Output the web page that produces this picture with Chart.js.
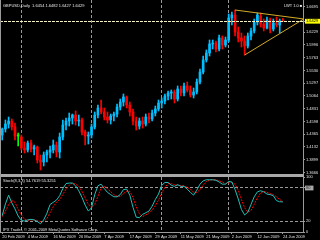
<!DOCTYPE html>
<html>
<head>
<meta charset="utf-8">
<script src="https://cdn.jsdelivr.net/npm/chart.js@4.4.1/dist/chart.umd.min.js"></script>
<style>
  html, body { margin: 0; padding: 0; background: #000; }
  #wrap { position: relative; width: 320px; height: 240px; overflow: hidden; background: #000; }
  canvas { position: absolute; left: 0; }
  #price { top: 0; }
  #stoch { top: 174px; }
  .txt { position: absolute; color: #e8e8e8; font-family: "Liberation Sans", Arial, sans-serif; font-size: 4px; line-height: 5px; white-space: nowrap; }
</style>
</head>
<body>
<div id="wrap">
  <canvas id="price" width="320" height="174"></canvas>
  <canvas id="stoch" width="320" height="66"></canvas>
  <div class="txt" style="left:3px;top:3px">GBPUSD,Daily&nbsp; 1.6454 1.6482 1.6427 1.6429</div>
  <div class="txt" style="left:284px;top:3px">LWT 1.0 &#9632;</div>
  <div class="txt" style="left:3px;top:178px">Stoch(8,3,3) 54.7619 55.3251</div>
  <div class="txt" style="left:3px;top:227px">IPX Trader, &copy; 2001-2009 MetaQuotes Software Corp.</div>
</div>
<script>
// daily bars, 20 Feb 2009 .. 24 Jun 2009
const opens = [
  1.4350, 1.4460, 1.4551, 1.4606, 1.4497, 1.4332, 1.4314, 1.4113, 1.4077, 1.4204,
  1.4095, 1.4131, 1.3894, 1.3857, 1.3985, 1.4040, 1.4077, 1.4168, 1.4040, 1.4314,
  1.4533, 1.4606, 1.4661, 1.4716, 1.4606, 1.4625, 1.4405, 1.4332, 1.4350, 1.4497,
  1.4716, 1.4844, 1.4771, 1.4679, 1.4625, 1.4698, 1.4734, 1.4862, 1.4953, 1.5045,
  1.4899, 1.4771, 1.4606, 1.4515, 1.4606, 1.4551, 1.4679, 1.4643, 1.4752, 1.4826,
  1.4935, 1.4972, 1.5063, 1.5118, 1.5136, 1.5008, 1.5191, 1.5118, 1.5246, 1.5173,
  1.5081, 1.5136, 1.5319, 1.5502, 1.5721, 1.5849, 1.6013, 1.6031, 1.5922, 1.6123,
  1.5995, 1.6086, 1.6488, 1.6543, 1.6232, 1.6123, 1.6068, 1.5977, 1.6159, 1.6251,
  1.6415, 1.6525, 1.6379, 1.6305, 1.6452, 1.6287, 1.6397, 1.6360, 1.6454
];
const highs = [
  1.4478, 1.4625, 1.4679, 1.4643, 1.4570, 1.4387, 1.4350, 1.4223, 1.4241, 1.4259,
  1.4168, 1.4150, 1.3985, 1.4040, 1.4077, 1.4150, 1.4259, 1.4223, 1.4387, 1.4625,
  1.4661, 1.4752, 1.4734, 1.4789, 1.4716, 1.4661, 1.4442, 1.4405, 1.4551, 1.4771,
  1.4899, 1.4990, 1.4844, 1.4771, 1.4734, 1.4771, 1.4917, 1.5008, 1.5100, 1.5063,
  1.4953, 1.4826, 1.4679, 1.4661, 1.4679, 1.4734, 1.4752, 1.4807, 1.4880, 1.4990,
  1.5027, 1.5100, 1.5154, 1.5173, 1.5173, 1.5246, 1.5246, 1.5301, 1.5319, 1.5246,
  1.5209, 1.5374, 1.5556, 1.5794, 1.5904, 1.6086, 1.6086, 1.6068, 1.6178, 1.6159,
  1.6141, 1.6561, 1.6598, 1.6634, 1.6324, 1.6214, 1.6159, 1.6214, 1.6305, 1.6470,
  1.6580, 1.6580, 1.6470, 1.6506, 1.6488, 1.6470, 1.6506, 1.6470, 1.6482
];
const lows = [
  1.4259, 1.4405, 1.4478, 1.4442, 1.4259, 1.4150, 1.4077, 1.4022, 1.4040, 1.4040,
  1.3985, 1.3839, 1.3711, 1.3784, 1.3857, 1.3930, 1.4022, 1.3949, 1.3930, 1.4259,
  1.4442, 1.4515, 1.4551, 1.4533, 1.4515, 1.4350, 1.4168, 1.4186, 1.4296, 1.4460,
  1.4661, 1.4734, 1.4625, 1.4570, 1.4551, 1.4606, 1.4679, 1.4807, 1.4880, 1.4844,
  1.4698, 1.4533, 1.4442, 1.4460, 1.4478, 1.4515, 1.4570, 1.4606, 1.4698, 1.4789,
  1.4844, 1.4917, 1.4990, 1.5008, 1.4935, 1.4972, 1.5063, 1.5063, 1.5136, 1.5045,
  1.5027, 1.5100, 1.5282, 1.5465, 1.5684, 1.5794, 1.5922, 1.5867, 1.5885, 1.5922,
  1.5958, 1.6050, 1.6360, 1.6159, 1.6050, 1.5958, 1.5812, 1.5940, 1.6086, 1.6214,
  1.6360, 1.6324, 1.6251, 1.6287, 1.6214, 1.6251, 1.6324, 1.6214, 1.6427
];
const closes = [
  1.4460, 1.4551, 1.4606, 1.4497, 1.4332, 1.4332, 1.4113, 1.4077, 1.4204, 1.4095,
  1.4131, 1.3894, 1.3857, 1.3985, 1.4040, 1.4077, 1.4168, 1.4040, 1.4314, 1.4533,
  1.4606, 1.4661, 1.4716, 1.4606, 1.4625, 1.4405, 1.4332, 1.4350, 1.4497, 1.4716,
  1.4844, 1.4771, 1.4679, 1.4625, 1.4698, 1.4734, 1.4862, 1.4953, 1.5045, 1.4899,
  1.4771, 1.4606, 1.4515, 1.4606, 1.4551, 1.4679, 1.4643, 1.4752, 1.4826, 1.4935,
  1.4972, 1.5063, 1.5118, 1.5136, 1.5008, 1.5191, 1.5118, 1.5246, 1.5173, 1.5081,
  1.5136, 1.5319, 1.5502, 1.5721, 1.5849, 1.6013, 1.6031, 1.5922, 1.6123, 1.5995,
  1.6086, 1.6488, 1.6543, 1.6232, 1.6123, 1.6068, 1.5977, 1.6159, 1.6251, 1.6415,
  1.6543, 1.6379, 1.6305, 1.6452, 1.6287, 1.6397, 1.6360, 1.6433, 1.6429
];

// Stochastic(8,3,3)
const stochMain = [
  30, 51, 67, 53, 42, 29, 21, 20, 22, 23,
  22, 19, 15, 22, 34, 50, 54, 58, 66, 79,
  88, 89, 89, 84, 75, 63, 49, 38, 44, 68,
  84, 87, 79, 72, 68, 64, 64, 68, 77, 78,
  67, 45, 27, 26, 32, 35, 38, 47, 59, 69,
  85, 90, 90, 85, 83, 86, 83, 83, 78, 72,
  67, 76, 87, 93, 95, 95, 95, 94, 91, 87,
  87, 92, 91, 77, 60, 41, 31, 36, 50, 64,
  73, 75, 73, 69, 68, 66, 57, 55, 54.76
];
const stochSignal = [
  28, 38, 50, 57, 54, 41, 31, 23, 21, 22,
  22, 21, 19, 19, 24, 35, 46, 54, 59, 68,
  78, 85, 89, 87, 83, 74, 62, 50, 44, 50,
  65, 80, 83, 79, 73, 68, 65, 65, 70, 74,
  74, 63, 46, 33, 28, 31, 35, 40, 48, 58,
  71, 81, 88, 88, 86, 85, 84, 84, 81, 78,
  72, 72, 77, 85, 92, 94, 95, 95, 93, 91,
  88, 89, 90, 87, 76, 59, 44, 36, 39, 50,
  62, 71, 74, 72, 70, 68, 64, 59, 55.33
];

const labelBars = [0, 8, 16, 24, 32, 40, 48, 56, 64, 72, 80, 88];
const dateLabels = ['20 Feb 2009', '4 Mar 2009', '16 Mar 2009', '26 Mar 2009', '7 Apr 2009', '17 Apr 2009',
  '29 Apr 2009', '11 May 2009', '21 May 2009', '2 Jun 2009', '12 Jun 2009', '24 Jun 2009'];
const monthStarts = [6, 28, 50, 71];
const priceTicks = [1.6695, 1.6229, 1.5996, 1.5763, 1.5530, 1.5297, 1.5064, 1.4831, 1.4598, 1.4365, 1.4132, 1.3899, 1.3666];
const stochTicks = [0, 20, 80, 100];
const stochBands = [20, 80];
// triangle drawn on the chart: [bar, price]
const trendUpper = [[73, 1.6634], [94.3, 1.6472]];
const trendLower = [[76, 1.5812], [94.3, 1.6462]];

const UP = '#00bfff', DOWN = '#ff0000', DOJI = '#00ff00';
const GRID = '#9a9a9a';
const CLEAR = 'rgba(0,0,0,0)';
const X_MIN = -0.7, X_MAX = 94.3;
const font = { family: '"Liberation Sans", Arial, sans-serif', size: 4 };

const idx = closes.map((c, i) => i);
const lastClose = closes[closes.length - 1];
const candleColor = idx.map(i => closes[i] > opens[i] ? UP : (closes[i] < opens[i] ? DOWN : DOJI));

function fixYAxis(scale) {
    scale.width = 17;
    scale.paddingTop = 0;
    scale.paddingBottom = 0;
}

const priceFrame = {
    id: 'priceFrame',
    afterDatasetsDraw(chart) {
        const { ctx, chartArea: a, scales: { y } } = chart;
        const py = Math.round(y.getPixelForValue(lastClose)) + 0.5;
        ctx.save();
        ctx.strokeStyle = '#f4f0c0';
        ctx.lineWidth = 1;
        ctx.setLineDash([3, 1]);
        ctx.beginPath();
        ctx.moveTo(a.left, py);
        ctx.lineTo(a.right, py);
        ctx.stroke();
        ctx.restore();
    },
    afterDraw(chart) {
        const ctx = chart.ctx;
        ctx.save();
        ctx.fillStyle = GRID;
        ctx.fillRect(0, 0, 1, chart.height);
        ctx.restore();
    }
};

const stochFrame = {
    id: 'stochFrame',
    afterDraw(chart) {
        const { ctx, chartArea: a } = chart;
        ctx.save();
        ctx.fillStyle = '#a8a8a8';
        ctx.fillRect(0, 0, a.right + 1, 3);
        ctx.fillStyle = GRID;
        ctx.fillRect(0, 0, 1, a.bottom);
        ctx.restore();
    }
};

new Chart(document.getElementById('price'), {
    type: 'bar',
    data: {
        datasets: [
            {
                data: idx.map(i => ({ x: i, y: [opens[i], closes[i]] })),
                backgroundColor: candleColor,
                barThickness: 2,
                minBarLength: 1,
                grouped: false,
                order: 1
            },
            {
                data: idx.map(i => ({ x: i, y: [lows[i], highs[i]] })),
                backgroundColor: candleColor,
                barThickness: 1,
                grouped: false,
                order: 2
            },
            {
                type: 'line',
                data: trendUpper.map(p => ({ x: p[0], y: p[1] })),
                borderColor: '#d2aa28',
                borderWidth: 1,
                pointRadius: 0,
                order: 0
            },
            {
                type: 'line',
                data: trendLower.map(p => ({ x: p[0], y: p[1] })),
                borderColor: '#d2aa28',
                borderWidth: 1,
                pointRadius: 0,
                order: 0
            }
        ]
    },
    options: {
        responsive: false,
        animation: false,
        layout: { padding: 0 },
        plugins: { legend: { display: false }, tooltip: { enabled: false } },
        scales: {
            x: {
                type: 'linear',
                min: X_MIN,
                max: X_MAX,
                offset: false,
                afterBuildTicks: s => { s.ticks = monthStarts.map(v => ({ value: v })); },
                afterFit: s => { s.height = 0; s.paddingLeft = 0; s.paddingRight = 0; },
                ticks: { display: false },
                grid: { color: GRID, drawTicks: false, offset: false },
                border: { display: false, dash: [3, 2] }
            },
            y: {
                position: 'right',
                min: 1.3638,
                max: 1.6817,
                afterBuildTicks: s => {
                    s.ticks = priceTicks.concat([lastClose]).sort((a, b) => a - b).map(v => ({ value: v }));
                },
                afterFit: fixYAxis,
                grid: { drawOnChartArea: false, color: GRID, tickLength: 2 },
                border: { color: GRID },
                ticks: {
                    font,
                    autoSkip: false,
                    padding: 1,
                    color: ctx => ctx.tick.value === lastClose ? '#000' : '#e0e0e0',
                    showLabelBackdrop: true,
                    backdropColor: ctx => ctx.tick.value === lastClose ? '#ffff00' : CLEAR,
                    backdropPadding: { top: 0, bottom: 0, left: 1, right: 2 },
                    callback: v => v.toFixed(4)
                }
            }
        }
    },
    plugins: [priceFrame]
});

new Chart(document.getElementById('stoch'), {
    type: 'line',
    data: {
        datasets: [
            {
                data: idx.map(i => ({ x: i, y: stochMain[i] })),
                borderColor: '#20c0b8',
                borderWidth: 1,
                pointRadius: 0
            },
            {
                data: idx.map(i => ({ x: i, y: stochSignal[i] })),
                borderColor: '#ff0000',
                borderWidth: 1,
                borderDash: [2, 1],
                pointRadius: 0
            }
        ]
    },
    options: {
        responsive: false,
        animation: false,
        layout: { padding: { top: 3 } },
        plugins: { legend: { display: false }, tooltip: { enabled: false } },
        scales: {
            x: {
                type: 'linear',
                min: X_MIN,
                max: X_MAX,
                afterBuildTicks: s => {
                    s.ticks = [...new Set(monthStarts.concat(labelBars))].sort((a, b) => a - b).map(v => ({ value: v }));
                },
                afterFit: s => { s.height = 8; s.paddingLeft = 0; s.paddingRight = 0; },
                grid: {
                    color: ctx => monthStarts.includes(ctx.tick.value) ? GRID : CLEAR,
                    tickColor: ctx => labelBars.includes(ctx.tick.value) ? GRID : CLEAR,
                    tickLength: 2,
                    offset: false
                },
                border: { color: GRID, dash: [3, 2] },
                ticks: {
                    font,
                    color: '#e0e0e0',
                    padding: 0,
                    align: 'start',
                    autoSkip: false,
                    maxRotation: 0,
                    callback: v => {
                        const k = labelBars.indexOf(v);
                        return k < 0 ? '' : dateLabels[k];
                    }
                }
            },
            y: {
                position: 'right',
                min: 0,
                max: 100,
                afterBuildTicks: s => { s.ticks = stochTicks.map(v => ({ value: v })); },
                afterFit: fixYAxis,
                grid: {
                    color: ctx => stochBands.includes(ctx.tick.value) ? GRID : CLEAR,
                    tickColor: GRID,
                    tickLength: 2
                },
                border: { color: GRID, dash: [3, 2] },
                ticks: {
                    font,
                    autoSkip: false,
                    padding: 1,
                    color: ctx => ctx.tick.value === 80 ? '#303030' : '#e0e0e0',
                    showLabelBackdrop: true,
                    backdropColor: ctx => ctx.tick.value === 80 ? '#a8a8a8' : CLEAR,
                    backdropPadding: { top: 0, bottom: 0, left: 1, right: 3 }
                }
            }
        }
    },
    plugins: [stochFrame]
});
</script>
</body>
</html>
